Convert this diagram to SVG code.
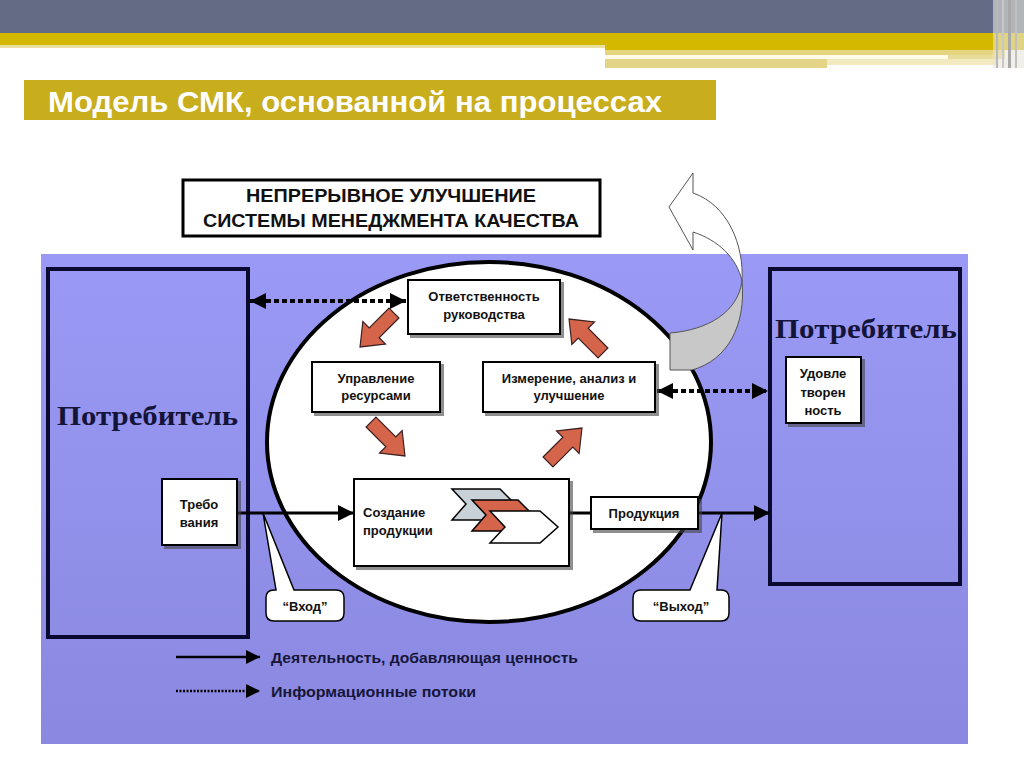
<svg xmlns="http://www.w3.org/2000/svg" width="1024" height="768" viewBox="0 0 1024 768">
<defs>
<style>
.box{fill:#fff;stroke:#000;stroke-width:2;filter:url(#sh)}
.lbl{font-family:"Liberation Sans",Arial,sans-serif;font-weight:bold;font-size:13px;fill:#111;text-anchor:middle}
.lbl-l{font-family:"Liberation Sans",Arial,sans-serif;font-weight:bold;font-size:13px;fill:#111;text-anchor:start}
.cust{fill:none;stroke:#0a0a30;stroke-width:4}
.serif{font-family:"Liberation Serif","Times New Roman",serif;font-weight:bold;font-size:28px;fill:#14143a}
.dot{stroke:#000;stroke-width:4;stroke-dasharray:5 3;fill:none}
.solid{stroke:#000;stroke-width:3;fill:none}
.red{fill:#d4654a;stroke:#3a2020;stroke-width:1.2}
.legend{font-family:"Liberation Sans",Arial,sans-serif;font-weight:bold;font-size:15px;fill:#16163a}
.callout{fill:#fff;stroke:#000;stroke-width:1.5}
</style>
<linearGradient id="bg" x1="0" y1="0" x2="0" y2="1">
<stop offset="0" stop-color="#9a9af6"/>
<stop offset="1" stop-color="#8a88e0"/>
</linearGradient>
<filter id="sh" x="-10%" y="-10%" width="130%" height="130%">
<feDropShadow dx="3" dy="3" stdDeviation="0.6" flood-color="#444" flood-opacity="0.6"/>
</filter>
<marker id="ah" viewBox="0 0 10 10" refX="10" refY="5" markerWidth="16" markerHeight="16" markerUnits="userSpaceOnUse" orient="auto-start-reverse">
<path d="M0,0 L10,5 L0,10 Z" fill="#000"/>
</marker>
<marker id="ahs" viewBox="0 0 10 10" refX="10" refY="5" markerWidth="14" markerHeight="14" markerUnits="userSpaceOnUse" orient="auto">
<path d="M0,0 L10,5 L0,10 Z" fill="#000"/>
</marker>
<path id="blk" d="M-24,-7 L4,-7 L4,-16 L24,0 L4,16 L4,7 L-24,7 Z"/>
</defs>

<rect x="0" y="0" width="1024" height="768" fill="#fff"/>
<g id="header">
<rect x="0" y="0" width="1024" height="34" fill="#636b85"/>
<rect x="0" y="33" width="1024" height="12" fill="#d4b800"/>
<rect x="605" y="45" width="419" height="5" fill="#d4b800"/>
<rect x="0" y="45" width="605" height="3" fill="#ece0a0"/>
<rect x="605" y="50" width="400" height="5" fill="#e6d580"/>
<rect x="605" y="55" width="343" height="4" fill="#fffbe8"/>
<rect x="948" y="55" width="57" height="4" fill="#e8dc9a"/>
<rect x="605" y="59" width="222" height="9" fill="#e3d488"/>
<rect x="827" y="59" width="170" height="6" fill="#f1e9c0"/>
<rect x="993" y="0" width="31" height="68" fill="#e6e4dc" opacity="0.6"/>
<rect x="996" y="0" width="2" height="68" fill="#b8b8b8"/>
<rect x="1002" y="0" width="2" height="68" fill="#c8c8c8"/>
<rect x="1008" y="0" width="3" height="68" fill="#a8a8a8"/>
<rect x="1015" y="0" width="2" height="68" fill="#c0c0c0"/>
</g>

<g id="title">
<rect x="24" y="80" width="692" height="40" fill="#c8ad1c"/>
<text x="48" y="112" font-family="'Liberation Sans',Arial,sans-serif" font-weight="bold" font-size="30" fill="#fff" textLength="614" lengthAdjust="spacingAndGlyphs">Модель СМК, основанной на процессах</text>
</g>

<g id="improvement">
<rect x="183" y="180" width="417" height="56" fill="#fff" stroke="#000" stroke-width="3"/>
<text x="391" y="202" font-family="'Liberation Sans',Arial,sans-serif" font-weight="bold" font-size="18" fill="#111" text-anchor="middle" textLength="290" lengthAdjust="spacingAndGlyphs">НЕПРЕРЫВНОЕ УЛУЧШЕНИЕ</text>
<text x="391" y="227" font-family="'Liberation Sans',Arial,sans-serif" font-weight="bold" font-size="18" fill="#111" text-anchor="middle" textLength="376" lengthAdjust="spacingAndGlyphs">СИСТЕМЫ МЕНЕДЖМЕНТА КАЧЕСТВА</text>
</g>

<rect id="background" x="41" y="254" width="927" height="490" fill="url(#bg)"/>

<g id="customer-left">
<rect class="cust" x="48" y="269" width="200" height="368"/>
<text class="serif" x="57" y="425" textLength="181" lengthAdjust="spacingAndGlyphs">Потребитель</text>
</g>

<g id="customer-right">
<rect class="cust" x="770" y="269" width="190" height="315"/>
<text class="serif" x="775" y="338" textLength="182" lengthAdjust="spacingAndGlyphs">Потребитель</text>
</g>

<ellipse id="process-oval" cx="489" cy="442" rx="222" ry="180" fill="#fff" stroke="#000" stroke-width="4"/>

<g id="improve-arrow">
<path d="M693,173 L669,207 L693,250 L693,232 C718,240 737,258 742,281 C744,245 728,205 693,193 Z" fill="#fff" stroke="#555" stroke-width="1"/>
<path d="M742,281 C738,312 708,330 670,333 L670,370 L692,370 C728,360 746,325 742,281 Z" fill="#c8c8c8" stroke="#555" stroke-width="1"/>
</g>

<g id="connectors">
<line class="dot" x1="250" y1="301" x2="406" y2="301" marker-start="url(#ah)" marker-end="url(#ah)"/>
<line class="dot" x1="657" y1="391" x2="768" y2="391" marker-start="url(#ah)" marker-end="url(#ah)"/>
<line class="solid" x1="238" y1="513" x2="354" y2="513" marker-end="url(#ah)"/>
<line class="solid" x1="569" y1="513" x2="591" y2="513"/>
<line class="solid" x1="698" y1="513" x2="770" y2="513" marker-end="url(#ah)"/>
<use href="#blk" class="red" transform="translate(377,330) rotate(135)"/>
<use href="#blk" class="red" transform="translate(586,336) rotate(-135)"/>
<use href="#blk" class="red" transform="translate(388,439) rotate(45)"/>
<use href="#blk" class="red" transform="translate(565,445) rotate(-45)"/>
</g>

<g id="management">
<rect class="box" x="408" y="280" width="152" height="54"/>
<text class="lbl" x="484" y="301">Ответственность</text>
<text class="lbl" x="484" y="319">руководства</text>
</g>

<g id="resources">
<rect class="box" x="312" y="362" width="128" height="50"/>
<text class="lbl" x="376" y="383">Управление</text>
<text class="lbl" x="376" y="400">ресурсами</text>
</g>

<g id="measurement">
<rect class="box" x="483" y="362" width="172" height="50"/>
<text class="lbl" x="569" y="383">Измерение, анализ и</text>
<text class="lbl" x="569" y="400">улучшение</text>
</g>

<g id="realization">
<rect class="box" x="354" y="479" width="215" height="87"/>
<text class="lbl-l" x="363" y="517">Создание</text>
<text class="lbl-l" x="363" y="535">продукции</text>
<path d="M452,489 H500 L515,504 L500,520 H452 L466,504 Z" fill="#c8d0d8" stroke="#000" stroke-width="1.5"/>
<path d="M472,500 H518 L533,515 L518,531 H472 L486,515 Z" fill="#d4654a" stroke="#000" stroke-width="1.5"/>
<path d="M490,511 H540 L558,527 L540,543 H490 L505,527 Z" fill="#fff" stroke="#000" stroke-width="1.5"/>
</g>

<g id="product">
<rect class="box" x="591" y="497" width="107" height="32"/>
<text class="lbl" x="644" y="518">Продукция</text>
</g>

<g id="requirements">
<rect class="box" x="162" y="479" width="75" height="66"/>
<text class="lbl" x="199" y="509">Требо</text>
<text class="lbl" x="199" y="527">вания</text>
</g>

<g id="satisfaction">
<rect class="box" x="786" y="357" width="75" height="66"/>
<text class="lbl" x="823" y="378">Удовле</text>
<text class="lbl" x="823" y="397">творен</text>
<text class="lbl" x="823" y="415">ность</text>
</g>

<g id="input">
<path class="callout" d="M274,590 H276 L263,513 L294,590 H336 Q344,590 344,598 V613 Q344,621 336,621 H274 Q266,621 266,613 V598 Q266,590 274,590 Z"/>
<text class="lbl" x="305" y="611">“Вход”</text>
</g>

<g id="output">
<path class="callout" d="M641,590 H690 L722,513 L717,590 H721 Q729,590 729,598 V613 Q729,621 721,621 H641 Q633,621 633,613 V598 Q633,590 641,590 Z"/>
<text class="lbl" x="681" y="611">“Выход”</text>
</g>

<g id="legend">
<line x1="176" y1="657" x2="260" y2="657" stroke="#000" stroke-width="2.5" marker-end="url(#ahs)"/>
<text class="legend" x="271" y="663" textLength="307" lengthAdjust="spacingAndGlyphs">Деятельность, добавляющая ценность</text>
<line x1="176" y1="691" x2="260" y2="691" stroke="#000" stroke-width="2.5" stroke-dasharray="2 1.5" marker-end="url(#ahs)"/>
<text class="legend" x="271" y="697" textLength="205" lengthAdjust="spacingAndGlyphs">Информационные потоки</text>
</g>
</svg>
